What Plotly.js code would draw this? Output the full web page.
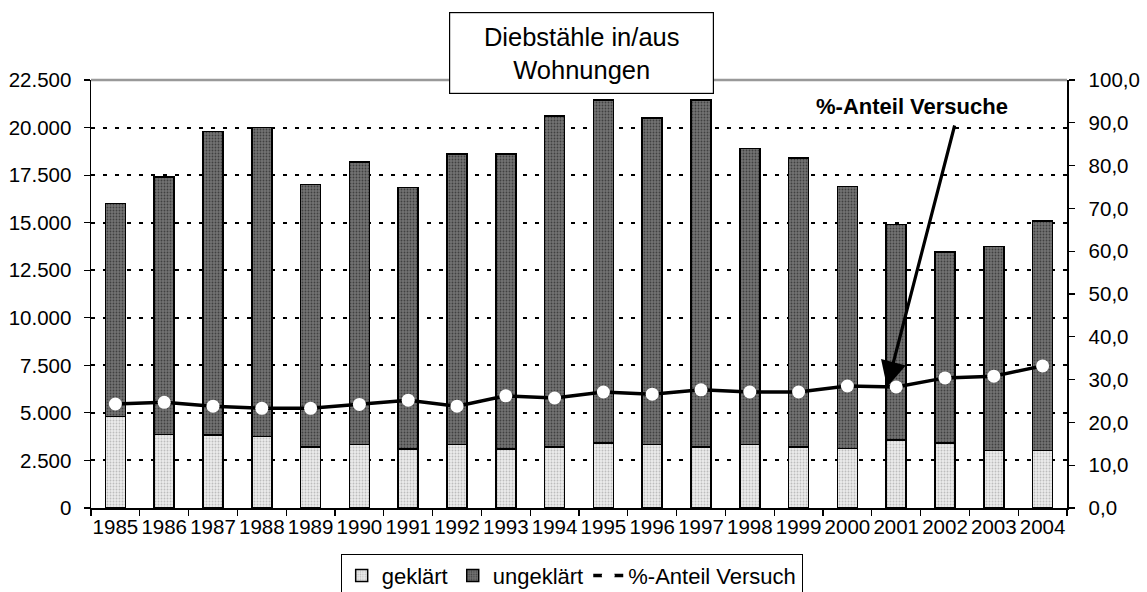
<!DOCTYPE html>
<html>
<head>
<meta charset="utf-8">
<script src="https://cdn.plot.ly/plotly-3.0.1.min.js"></script>
<style>
  html, body { margin: 0; padding: 0; background: #fff; }
  #chart { width: 1147px; height: 592px; }
</style>
</head>
<body>
<div id="chart"></div>
<script>
const years = ['1985','1986','1987','1988','1989','1990','1991','1992','1993','1994',
               '1995','1996','1997','1998','1999','2000','2001','2002','2003','2004'];
const totals = [16000, 17400, 19800, 20000, 17000, 18200, 16850, 18600, 18600, 20600,
                21450, 20500, 21450, 18900, 18400, 16900, 14900, 13450, 13750, 15100];
const geklaert = [4800, 3870, 3850, 3750, 3220, 3330, 3100, 3330, 3100, 3220,
                  3430, 3330, 3220, 3330, 3220, 3120, 3570, 3430, 3010, 3010];
const ungeklaert = totals.map((t, i) => t - geklaert[i]);
const anteilVersuch = [24.3, 24.7, 23.8, 23.3, 23.3, 24.2, 25.2, 23.8, 26.2, 25.7,
                       27.1, 26.6, 27.6, 27.1, 27.1, 28.5, 28.3, 30.4, 30.8, 33.2];
const leftTicks = [0, 2500, 5000, 7500, 10000, 12500, 15000, 17500, 20000, 22500];
const rightTicks = [0, 10, 20, 30, 40, 50, 60, 70, 80, 90, 100];

const FONT = '"Liberation Sans", Arial, sans-serif';
const TS = 20.5;

const traces = [
  {
    type: 'bar', name: 'geklärt', x: years, y: geklaert,
    marker: {
      color: '#e4e4e4',
      pattern: { shape: '.', fgcolor: '#bdbdbd', bgcolor: '#ececec', size: 3, solidity: 0.3, fillmode: 'replace' },
      line: { color: '#000', width: 1.5 }
    }
  },
  {
    type: 'bar', name: 'ungeklärt', x: years, y: ungeklaert,
    marker: {
      color: '#666',
      pattern: { shape: '.', fgcolor: '#404040', bgcolor: '#737373', size: 3, solidity: 0.3, fillmode: 'replace' },
      line: { color: '#000', width: 1.5 }
    }
  },
  {
    type: 'scatter', mode: 'lines+markers', name: '%-Anteil Versuch',
    x: years, y: anteilVersuch, yaxis: 'y2',
    line: { color: '#000', width: 3.5 },
    marker: { color: '#fff', size: 13, line: { width: 0 } }
  }
];

const layout = {
  width: 1147, height: 592,
  margin: { l: 91, r: 80, t: 80, b: 84, autoexpand: false },
  paper_bgcolor: '#fff', plot_bgcolor: '#fff',
  separators: ',.',
  font: { family: FONT, size: TS, color: '#000' },
  barmode: 'stack',
  bargap: 0.59,
  showlegend: true,
  legend: {
    orientation: 'h',
    x: 0.4925, xanchor: 'center',
    y: -0.107, yanchor: 'top',
    bordercolor: '#000', borderwidth: 1,
    bgcolor: '#fff',
    font: { family: FONT, size: 22 },
    traceorder: 'normal',
    itemwidth: 30
  },
  xaxis: {
    type: 'category',
    range: [-0.5, 19.5],
    tickson: 'boundaries',
    tickangle: 0,
    automargin: false,
    ticks: 'outside', ticklen: 6, tickwidth: 1.2, tickcolor: '#000',
    showline: true, linecolor: '#000', linewidth: 1.5,
    showgrid: false,
    tickfont: { family: FONT, size: TS },
    fixedrange: true
  },
  yaxis: {
    range: [0, 22500],
    tickvals: leftTicks,
    tickformat: ',.0f',
    automargin: false,
    ticks: 'outside', ticklen: 6, tickwidth: 1.2, tickcolor: '#000',
    ticklabelstandoff: 8,
    showline: true, linecolor: '#000', linewidth: 1.5,
    showgrid: true, gridcolor: '#000', gridwidth: 2, griddash: '4px,8px',
    zeroline: false,
    tickfont: { family: FONT, size: TS }
  },
  yaxis2: {
    overlaying: 'y', side: 'right',
    range: [0, 100],
    tickvals: rightTicks,
    tickformat: '.1f',
    automargin: false,
    ticks: 'outside', ticklen: 6, tickwidth: 1.2, tickcolor: '#000',
    ticklabelstandoff: 10,
    showline: true, linecolor: '#000', linewidth: 1.5,
    showgrid: false, zeroline: false,
    tickfont: { family: FONT, size: TS }
  },
  shapes: [
    { type: 'line', xref: 'paper', yref: 'paper', x0: 0, x1: 1, y0: 1, y1: 1,
      line: { color: '#999', width: 2.5 }, layer: 'below' }
  ],
  annotations: [
    {
      xref: 'paper', yref: 'paper', x: 0.503, y: 1.063,
      xanchor: 'center', yanchor: 'middle',
      text: 'Diebstähle in/aus<br>Wohnungen',
      showarrow: false,
      font: { family: FONT, size: 25.5, color: '#000' },
      bgcolor: '#fff', bordercolor: '#000', borderwidth: 1.2,
      width: 257, height: 74, borderpad: 3, align: 'center'
    },
    {
      xref: 'paper', yref: 'paper', x: 0.841, y: 0.939,
      xanchor: 'center', yanchor: 'middle',
      text: '<b>%-Anteil Versuche</b>',
      showarrow: false,
      font: { family: FONT, size: 22, color: '#000' }
    },
    {
      xref: 'paper', yref: 'paper', x: 0.8156, y: 0.2827,
      text: '', showarrow: true,
      axref: 'pixel', ayref: 'pixel', ax: 68, ay: -263,
      arrowhead: 2, arrowsize: 1.6, arrowwidth: 3.2, arrowcolor: '#000',
      standoff: 0
    }
  ]
};

Plotly.newPlot('chart', traces, layout, { displayModeBar: false, staticPlot: true });
</script>
</body>
</html>
